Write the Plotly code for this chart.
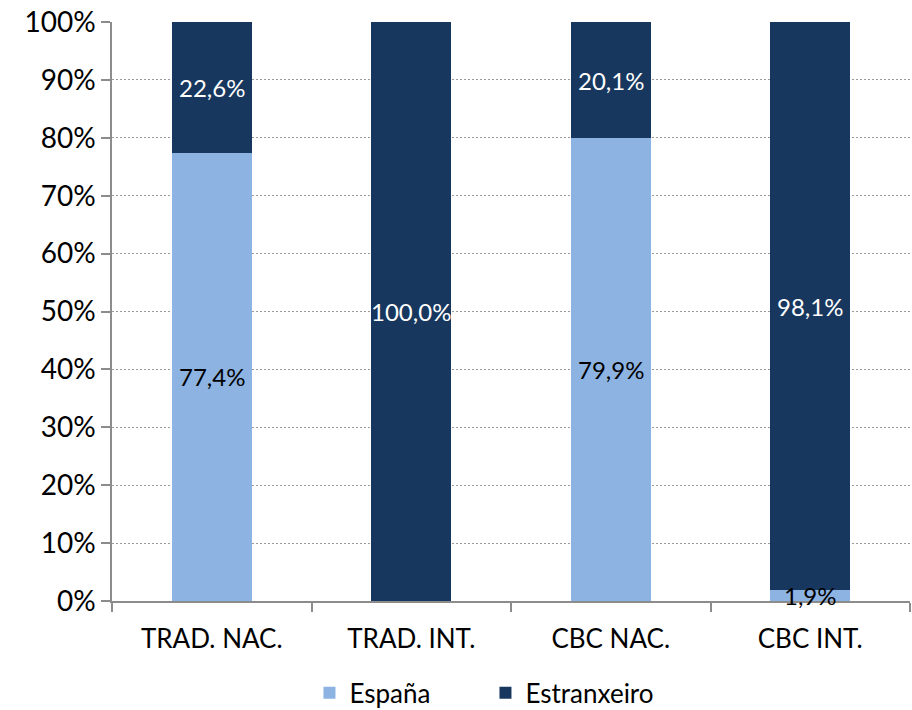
import plotly.graph_objects as go

categories = ["TRAD. NAC.", "TRAD. INT.", "CBC NAC.", "CBC INT."]
espana = [77.4, 0.0, 79.9, 1.9]
estranxeiro = [22.6, 100.0, 20.1, 98.1]
y_ticks = [0, 10, 20, 30, 40, 50, 60, 70, 80, 90, 100]

FONT = "Lato"

fig = go.Figure()
fig.add_trace(go.Bar(name="España", x=categories, y=[v / 100 for v in espana],
                     marker=dict(color="#8DB3E2", line=dict(width=0))))
fig.add_trace(go.Bar(name="Estranxeiro", x=categories, y=[v / 100 for v in estranxeiro],
                     marker=dict(color="#17375E", line=dict(width=0))))

def fmt(v):
    return f"{v:.1f}".replace(".", ",") + "%"

annotations = []
for c, e, s in zip(categories, espana, estranxeiro):
    if e > 0:
        annotations.append(dict(x=c, y=e / 200, text=fmt(e), showarrow=False,
                                font=dict(family=FONT, size=24, color="#000000")))
    if s > 0:
        annotations.append(dict(x=c, y=(e + s / 2) / 100, text=fmt(s), showarrow=False,
                                font=dict(family=FONT, size=24, color="#FFFFFF")))

fig.update_layout(
    barmode="stack",
    bargap=0.6,
    width=912, height=710,
    margin=dict(l=112, r=2, t=22, b=109, autoexpand=False),
    plot_bgcolor="white", paper_bgcolor="white",
    font=dict(family=FONT, size=26, color="#000000"),
    showlegend=True,
    legend=dict(orientation="h", x=0.468, xanchor="center",
                yref="container", y=0.024, yanchor="middle",
                font=dict(family=FONT, size=26), itemwidth=30, entrywidth=131,
                traceorder="normal"),
    annotations=annotations,
    xaxis=dict(type="category", showline=True, linecolor="#8C8C8C", linewidth=1.5,
               ticks="outside", tickson="boundaries", ticklen=9, tickcolor="#8C8C8C",
               tickwidth=1.5, showgrid=False, tickfont=dict(size=26),
               ticklabelstandoff=14, automargin=False),
    yaxis=dict(range=[0, 1], tickvals=[t / 100 for t in y_ticks],
               ticktext=[f"{t}%" for t in y_ticks],
               showline=True, linecolor="#8C8C8C", linewidth=1.5,
               ticks="outside", ticklen=9, tickcolor="#8C8C8C", tickwidth=1.5,
               showgrid=True, gridcolor="#9A9A9A", griddash="2px,2px", gridwidth=1,
               zeroline=False, tickfont=dict(size=28), automargin=False,
               ticklabeloverflow="allow"),
)

fig.write_html("out.html", config={"displayModeBar": False},
               post_script="document.body.style.margin='0';")
